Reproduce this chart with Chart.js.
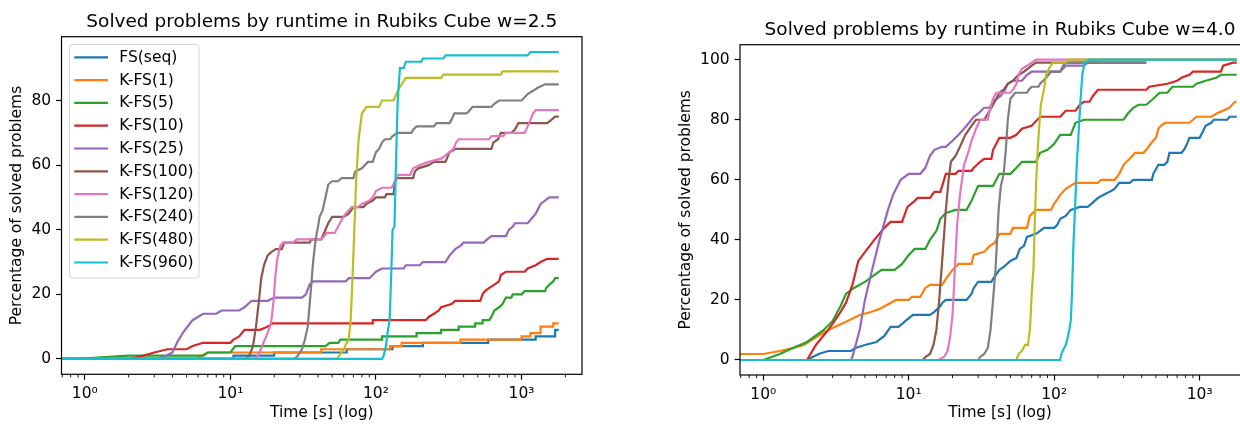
<!DOCTYPE html>
<html>
<head>
<meta charset="utf-8">
<script src="https://cdn.jsdelivr.net/npm/chart.js@4"></script>
<style>
  html, body { margin: 0; padding: 0; background: #fff; }
  body { width: 1240px; height: 424px; overflow: hidden; position: relative; }
  canvas { position: absolute; top: 0; }
  #left { left: 0; }
  #right { left: 620px; }
</style>
</head>
<body>
<canvas id="left" width="644" height="424"></canvas>
<canvas id="right" width="760" height="424"></canvas>
<script>
const seriesLabels = ['FS(seq)', 'K-FS(1)', 'K-FS(5)', 'K-FS(10)', 'K-FS(25)', 'K-FS(100)', 'K-FS(120)', 'K-FS(240)', 'K-FS(480)', 'K-FS(960)'];
const seriesColors = ['#1f77b4', '#ff7f0e', '#2ca02c', '#d62728', '#9467bd', '#8c564b', '#e377c2', '#7f7f7f', '#bcbd22', '#17becf'];

const xTickVals = [1, 10, 100, 1000];
const xTickLabels = ['10⁰', '10¹', '10²', '10³'];
const leftYTicks = [0, 20, 40, 60, 80];
const rightYTicks = [0, 20, 40, 60, 80, 100];

// w=2.5 : [time s, % solved]
const w25Seq = [[0.5,0],[10.5,0],[10.5,1],[20,1],[20,2],[63,2],[63,3],[130,3],[130,4],[210,4],[210,5],[590,5],[590,6],[1250,6],[1250,7],[1700,7],[1700,9],[1800,9]];
const w25K1 = [[0.5,0],[5.8,0],[6.3,1],[7,2],[42,2],[42,3],[125,3],[125,4],[150,4],[150,5],[380,5],[380,6],[1000,6],[1000,7],[1150,7],[1150,8],[1350,8],[1350,10],[1650,10],[1650,11],[1800,11]];
const w25K5 = [[0.5,0],[0.9,0],[2,1],[6.5,1],[7,2],[10,2],[10.8,4],[45,4],[48,5],[55,5],[57,6],[110,6],[110,7],[190,7],[190,8],[280,8],[280,9],[370,9],[370,10],[480,10],[480,11],[540,11],[540,12],[600,12],[620,13],[650,15],[700,16],[740,17],[780,19],[850,19],[870,20],[1000,20],[1050,21],[1450,21],[1480,22],[1550,23],[1650,24],[1700,25],[1800,25]];
const w25K10 = [[0.5,0],[2,0],[2.5,1],[3,2],[3.7,3],[5,3],[5.5,4],[6.5,5],[10,5],[10.5,6],[11.5,7],[12.5,9],[16,9],[18,10],[19.5,11],[95,11],[95,12],[220,12],[230,13],[250,14],[270,15],[280,16],[330,17],[350,18],[520,18],[540,20],[560,21],[600,22],[650,23],[700,24],[720,26],[780,27],[1050,27],[1100,28],[1250,29],[1350,30],[1500,31],[1800,31]];
const w25K25 = [[0.5,0],[3.2,0],[3.6,1],[4,2],[4.3,5],[4.7,8],[5.5,12],[6.5,14],[8,14],[8.7,15],[11.5,15],[12.5,16],[14,18],[18,18],[20,19],[31,19],[33,20],[35,23],[37,24],[62,24],[65,25],[90,25],[95,26],[100,27],[110,28],[155,28],[160,29],[200,29],[210,30],[300,30],[320,32],[350,34],[380,35],[400,36],[550,36],[580,37],[620,38],[780,38],[820,40],[870,41],[900,42],[1100,42],[1150,43],[1250,45],[1350,48],[1450,49],[1550,50],[1800,50]];
const w25K100 = [[0.5,0],[12.8,0],[13.5,1],[14.3,4],[15,10],[15.7,18],[16.3,25],[17,29],[18,32],[19,33],[20.5,34],[22.5,34],[23.5,36],[35,36],[36,37],[42,37],[44,39],[47,42],[50,44],[60,44],[65,45],[70,47],[82,47],[86,48],[95,49],[100,50],[115,50],[118,51],[132,51],[135,55],[140,56],[180,56],[185,58],[195,59],[230,60],[250,61],[300,61],[320,64],[350,65],[620,65],[640,67],[690,68],[720,70],[850,70],[900,71],[950,73],[1500,73],[1600,74],[1700,75],[1800,75]];
const w25K120 = [[0.5,0],[14.5,0],[15.5,1],[16.5,4],[18,8],[19,11],[19.8,18],[20.3,25],[21,31],[22,35],[23,36],[27,36],[28.5,37],[42,37],[44,38],[46,39],[52,39],[55,41],[58,43],[62,45],[68,47],[75,47],[80,48],[90,49],[95,50],[100,52],[110,53],[128,53],[135,55],[142,57],[172,57],[180,59],[200,60],[230,61],[280,62],[320,64],[340,65],[355,67],[370,68],[600,68],[620,69],[750,69],[780,70],[1050,70],[1100,72],[1150,74],[1200,76],[1250,77],[1800,77]];
const w25K240 = [[0.5,0],[27.5,0],[29,1],[31,3],[32.5,6],[34,10],[35.5,20],[37,30],[38.5,37],[40,41],[41,44],[43,46],[45,50],[47,54],[50,55],[55,55],[58,56],[70,56],[72,58],[80,59],[88,61],[95,61],[100,64],[105,65],[110,67],[115,68],[125,68],[130,69],[140,70],[175,70],[180,71],[190,72],[250,72],[260,73],[320,73],[330,74],[345,76],[420,76],[440,77],[460,78],[620,78],[650,79],[700,80],[1000,80],[1050,81],[1100,82],[1200,83],[1300,84],[1450,85],[1800,85]];
const w25K480 = [[0.5,0],[54,0],[56,1],[60,3],[63,5],[65,6],[67,12],[69,25],[71,40],[73,55],[76,68],[80,76],[86,78],[105,78],[110,80],[132,80],[138,82],[145,84],[150,85],[160,87],[280,87],[290,88],[720,88],[740,89],[1800,89]];
const w25K960 = [[0.5,0],[110,0],[113,1],[117,4],[120,8],[124,12],[127,25],[130,40],[134,41],[137,60],[141,80],[146,90],[155,90],[160,92],[205,92],[210,93],[290,93],[300,94],[1100,94],[1150,95],[1800,95]];

// w=4.0
const w40Seq = [[0.5,0],[2,0],[2.4,2],[2.8,3],[4,3],[4.3,4],[5,5],[6,6],[6.8,8],[7.5,11],[8.5,11],[9,12],[9.5,13],[10.7,15],[14,15],[15,16],[16.5,18],[17,19],[18,20],[25,20],[27,22],[28,24],[30,26],[37,26],[38,27],[42,30],[45,31],[50,33],[55,34],[58,37],[62,38],[65,41],[75,42],[80,43],[85,44],[100,44],[105,45],[110,47],[120,48],[130,50],[150,51],[170,51],[180,52],[200,54],[240,56],[260,57],[280,59],[330,59],[350,60],[470,60],[480,62],[520,65],[570,65],[600,66],[620,69],[750,69],[780,70],[820,72],[850,74],[1000,74],[1050,76],[1100,78],[1200,79],[1250,80],[1550,80],[1600,81],[1800,81]];
const w40K1 = [[0.5,2],[1,2],[1.3,3],[1.6,4],[1.9,5],[2.2,7],[2.8,10],[3.8,13],[4.6,15],[5.5,16],[6.3,17],[8.2,20],[10,20],[10.5,21],[12,21],[13,24],[14,25],[17,25],[18,27],[20,30],[22,32],[27,32],[28,35],[33,36],[36,38],[39,39],[42,42],[50,42],[52,44],[65,44],[68,48],[75,50],[95,50],[100,52],[110,55],[120,57],[140,59],[200,59],[210,60],[260,60],[280,62],[300,65],[330,67],[360,69],[410,69],[430,70],[460,72],[500,74],[520,77],[540,78],[580,79],[850,79],[900,80],[950,81],[1200,81],[1300,82],[1600,84],[1750,86],[1800,86]];
const w40K5 = [[0.5,0],[1,0],[1.3,2],[1.6,4],[2,6],[2.6,10],[3,13],[3.4,18],[3.7,22],[4.2,24],[5,26],[5.7,28],[6.5,30],[8,30],[9,32],[10,35],[11,37],[13,37],[14,40],[15.5,43],[16.5,47],[18,49],[21,50],[25,50],[27,53],[30,58],[38,58],[40,60],[42,62],[50,62],[55,64],[60,66],[75,66],[80,69],[90,70],[100,72],[110,75],[130,75],[140,79],[160,80],[300,80],[320,82],[350,84],[380,85],[430,85],[480,87],[530,89],[600,89],[650,91],[900,91],[950,92],[1100,93],[1300,94],[1400,95],[1800,95]];
const w40K10 = [[0.5,0],[2,0],[2.3,5],[2.8,10],[3.3,15],[3.7,19],[4.1,25],[4.5,33],[5.2,37],[5.8,40],[6.8,44],[7.5,46],[9,46],[9.8,51],[11,53],[11.5,54],[14,54],[15,56],[16.5,56],[18,62],[21,62],[22,63],[27,63],[28,64],[31,66],[33,67],[37,67],[38,70],[40,72],[42,74],[50,74],[55,75],[60,77],[70,78],[80,81],[110,81],[115,82],[120,83],[140,83],[150,85],[160,86],[175,86],[185,88],[200,90],[430,90],[450,91],[600,92],[700,93],[750,94],[850,95],[900,96],[1400,96],[1450,98],[1700,99],[1800,99]];
const w40K25 = [[0.5,0],[4,0],[4.1,1],[4.6,10],[5,20],[5.6,30],[6.3,40],[7.2,50],[7.8,55],[8.8,60],[10,62],[12,62],[13,64],[14,68],[15,70],[17,71],[18,71],[20,73],[22,75],[24,77],[26,79],[28,81],[30,82],[33,84],[36,84],[38,86],[43,88],[46,90],[48,92],[52,93],[60,93],[65,95],[70,96],[110,96],[115,97],[120,98],[160,98],[170,99],[200,99]];
const w40K100 = [[0.5,0],[12.5,0],[13,1],[14,2],[14.8,5],[15.5,10],[16.2,20],[16.8,30],[17.4,40],[18,50],[18.8,60],[19.5,66],[21,68],[22,70],[23,72],[24.5,75],[27,78],[29,80],[33,80],[35,82],[38,85],[40,87],[42,89],[45,90],[48,92],[52,93],[57,95],[62,96],[66,97],[70,98],[75,99],[430,99]];
const w40K120 = [[0.5,0],[16,0],[17.5,1],[18.5,3],[19.3,8],[20,15],[20.5,25],[21,35],[21.5,45],[22.5,55],[24,65],[26,70],[27,73],[29,77],[31,80],[35,80],[36,83],[38,87],[40,89],[50,89],[52,90],[55,92],[57,95],[60,97],[65,98],[70,99],[75,100],[1800,100]];
const w40K240 = [[0.5,0],[30,0],[31,1],[33,2],[35,4],[36.5,10],[38,20],[39.5,30],[40.5,40],[41.5,50],[43,58],[45,62],[46.5,70],[48,80],[50,87],[54,89],[65,89],[67,90],[70,91],[78,91],[80,92],[88,94],[95,96],[110,96],[115,98],[120,99],[430,99]];
const w40K480 = [[0.5,0],[55,0],[57,2],[60,3],[63,5],[66,5],[68,10],[69,15],[70,22],[72,30],[73.5,45],[75,58],[77,70],[79,78],[81,85],[85,90],[88,95],[92,97],[98,99],[120,99],[125,100],[1800,100]];
const w40K960 = [[0.5,0],[110,0],[112,2],[117,4],[120,5],[123,7],[127,10],[130,13],[132,20],[134,30],[136,40],[139,50],[143,65],[147,75],[151,85],[156,95],[162,99],[175,100],[1800,100]];

const leftSeries = [w25Seq, w25K1, w25K5, w25K10, w25K25, w25K100, w25K120, w25K240, w25K480, w25K960];
const rightSeries = [w40Seq, w40K1, w40K5, w40K10, w40K25, w40K100, w40K120, w40K240, w40K480, w40K960];

const xMin = 0.692, xMax = 2600;
const FONT = 'DejaVu Sans';

Chart.defaults.font.family = FONT;
Chart.defaults.color = '#000';

// title over the axes, frame, minor x ticks and (optionally) the legend, matplotlib style
const mplDecor = {
    id: 'mplDecor',
    afterDraw(chart, args, opts) {
        const ctx = chart.ctx;
        const a = chart.chartArea;
        const xs = chart.scales.x;
        ctx.save();
        // title, centred on the axes
        ctx.fillStyle = '#000';
        ctx.font = '18.5px "' + FONT + '"';
        ctx.textAlign = 'center';
        ctx.textBaseline = 'alphabetic';
        ctx.fillText(opts.title, (a.left + a.right) / 2, a.top - 9.4);
        // minor ticks
        ctx.strokeStyle = '#000';
        ctx.lineWidth = 0.9;
        for (let d = -1; d <= 3; d++) {
            for (let k = 2; k <= 9; k++) {
                const v = k * Math.pow(10, d);
                if (v < xMin || v > xMax) continue;
                const px = xs.getPixelForValue(v);
                ctx.beginPath();
                ctx.moveTo(px, a.bottom);
                ctx.lineTo(px, a.bottom + 3.1);
                ctx.stroke();
            }
        }
        // box
        ctx.lineWidth = 1.2;
        ctx.strokeRect(a.left, a.top, a.right - a.left, a.bottom - a.top);

        if (opts.legend) {
            ctx.fillStyle = 'rgba(255,255,255,0.8)';
            ctx.strokeStyle = 'rgba(204,204,204,0.8)';
            ctx.lineWidth = 1;
            ctx.beginPath();
            ctx.roundRect(69.5, 44.5, 129.5, 233.5, 3);
            ctx.fill();
            ctx.stroke();
            ctx.font = '15.5px "' + FONT + '"';
            ctx.textBaseline = 'middle';
            ctx.textAlign = 'left';
            seriesLabels.forEach((lab, i) => {
                const y = 57.3 + i * 22.8;
                ctx.strokeStyle = seriesColors[i];
                ctx.lineWidth = 2.2;
                ctx.beginPath();
                ctx.moveTo(74.3, y);
                ctx.lineTo(108, y);
                ctx.stroke();
                ctx.fillStyle = '#000';
                ctx.fillText(lab, 119.3, y + 0.5);
            });
        }
        ctx.restore();
    }
};

function makeChart(id, series, cfg) {
    return new Chart(document.getElementById(id), {
        type: 'line',
        data: {
            datasets: series.map((pts, i) => ({
                label: seriesLabels[i],
                data: pts,
                borderColor: seriesColors[i],
                borderWidth: 2.2,
                pointRadius: 0,
                tension: 0,
                fill: false,
                order: series.length - 1 - i
            }))
        },
        options: {
            responsive: false,
            animation: false,
            events: [],
            layout: { padding: { left: 0, top: cfg.top, bottom: 0, right: cfg.padRight } },
            plugins: {
                legend: { display: false },
                tooltip: { enabled: false },
                title: { display: false },
                mplDecor: { legend: cfg.legend, title: cfg.title }
            },
            scales: {
                x: {
                    type: 'logarithmic',
                    min: xMin,
                    max: xMax,
                    afterBuildTicks: s => { s.ticks = xTickVals.map(v => ({ value: v, major: true })); },
                    afterFit: s => { s.height = cfg.xHeight; },
                    ticks: {
                        autoSkip: false,
                        maxRotation: 0,
                        padding: 4.9,
                        font: { size: 15.5 },
                        callback: (v, i) => xTickLabels[i]
                    },
                    grid: { display: true, drawOnChartArea: false, drawTicks: true, tickLength: 5.4, tickColor: '#000', tickWidth: 1.2 },
                    border: { display: false },
                    title: { display: true, text: 'Time [s] (log)', font: { size: 15.5 }, padding: { top: 0, bottom: 1.7 } }
                },
                y: {
                    min: cfg.yMin,
                    max: cfg.yMax,
                    afterBuildTicks: s => { s.ticks = cfg.yTicks.map(v => ({ value: v })); },
                    afterFit: s => { s.width = cfg.yWidth; },
                    ticks: { padding: 5, font: { size: 15.5 } },
                    grid: { display: true, drawOnChartArea: false, drawTicks: true, tickLength: 5.4, tickColor: '#000', tickWidth: 1.2 },
                    border: { display: false },
                    title: { display: true, text: 'Percentage of solved problems', font: { size: 15.5 }, padding: { top: cfg.yTitlePad, bottom: 0 } }
                }
            }
        },
        plugins: [mplDecor]
    });
}

makeChart('left', leftSeries, {
    title: 'Solved problems by runtime in Rubiks Cube w=2.5',
    top: 36.7, padRight: 62, xHeight: 49.7, yWidth: 61.5, yTitlePad: 7.2,
    yMin: -4.75, yMax: 99.75, yTicks: leftYTicks, legend: true
});

makeChart('right', rightSeries, {
    title: 'Solved problems by runtime in Rubiks Cube w=4.0',
    top: 44.7, padRight: 120, xHeight: 49, yWidth: 120, yTitlePad: 56.7,
    yMin: -5, yMax: 105, yTicks: rightYTicks, legend: false
});
</script>
</body>
</html>
